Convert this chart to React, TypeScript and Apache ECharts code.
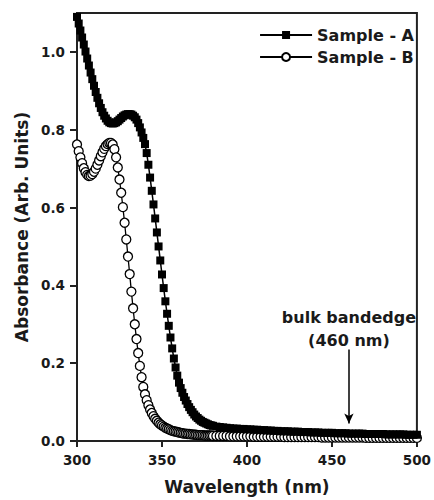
import React, { useEffect, useRef } from "react";
import * as echarts from "echarts";

const wavelengths = [
  300, 301, 302, 303, 304, 305, 306, 307, 308, 309, 310, 311, 312, 313, 314, 315, 316, 317, 318, 319,
  320, 321, 322, 323, 324, 325, 326, 327, 328, 329, 330, 331, 332, 333, 334, 335, 336, 337, 338, 339,
  340, 341, 342, 343, 344, 345, 346, 347, 348, 349, 350, 351, 352, 353, 354, 355, 356, 357, 358, 359,
  360, 361, 362, 363, 364, 365, 366, 367, 368, 369, 370, 371, 372, 373, 374, 375, 376, 377, 378, 379,
  380, 382, 384, 386, 388, 390, 392, 394, 396, 398, 400, 402, 404, 406, 408, 410, 412, 414, 416, 418,
  420, 422, 424, 426, 428, 430, 432, 434, 436, 438, 440, 442, 444, 446, 448, 450, 452, 454, 456, 458,
  460, 462, 464, 466, 468, 470, 472, 474, 476, 478, 480, 482, 484, 486, 488, 490, 492, 494, 496, 498,
  500,
];

const sampleA = [
  1.09, 1.073, 1.055, 1.037, 1.019, 1.001, 0.983, 0.965, 0.947, 0.93, 0.913, 0.897, 0.882, 0.868, 0.856, 0.845, 0.836, 0.829, 0.823, 0.819,
  0.817, 0.816, 0.817, 0.819, 0.822, 0.826, 0.83, 0.834, 0.837, 0.839, 0.84, 0.84, 0.839, 0.836, 0.832, 0.826, 0.817, 0.806, 0.793, 0.779,
  0.763, 0.74, 0.71, 0.677, 0.643, 0.608, 0.572, 0.536, 0.5, 0.464, 0.428, 0.393, 0.359, 0.327, 0.296, 0.266, 0.238, 0.212, 0.189, 0.168,
  0.15, 0.136, 0.124, 0.113, 0.104, 0.095, 0.087, 0.08, 0.074, 0.068, 0.063, 0.059, 0.055, 0.052, 0.049, 0.047, 0.045, 0.043, 0.041, 0.04,
  0.039, 0.037, 0.036, 0.035, 0.034, 0.033, 0.032, 0.032, 0.031, 0.031, 0.03, 0.03, 0.029, 0.029, 0.028, 0.028, 0.027, 0.027, 0.026, 0.026,
  0.025, 0.025, 0.025, 0.024, 0.024, 0.024, 0.023, 0.023, 0.023, 0.022, 0.022, 0.022, 0.021, 0.021, 0.021, 0.021, 0.02, 0.02, 0.02, 0.02,
  0.019, 0.019, 0.019, 0.019, 0.019, 0.018, 0.018, 0.018, 0.018, 0.018, 0.018, 0.017, 0.017, 0.017, 0.017, 0.017, 0.017, 0.016, 0.016, 0.016,
  0.016,
];

const sampleB = [
  0.762, 0.745, 0.729, 0.714, 0.701, 0.691, 0.684, 0.681, 0.682, 0.686, 0.692, 0.7, 0.71, 0.721, 0.732, 0.742, 0.751, 0.758, 0.763, 0.766,
  0.766, 0.762, 0.75, 0.729, 0.703, 0.672, 0.638, 0.601, 0.561, 0.518, 0.474, 0.429, 0.384, 0.341, 0.3, 0.262, 0.226, 0.193, 0.164, 0.139,
  0.12, 0.105, 0.092, 0.081, 0.072, 0.064, 0.057, 0.052, 0.047, 0.043, 0.04, 0.037, 0.034, 0.032, 0.03, 0.028, 0.026, 0.025, 0.024, 0.023,
  0.022, 0.021, 0.02, 0.019, 0.019, 0.018, 0.018, 0.017, 0.017, 0.016, 0.016, 0.015, 0.015, 0.015, 0.015, 0.014, 0.014, 0.014, 0.014, 0.014,
  0.013, 0.013, 0.013, 0.013, 0.013, 0.012, 0.012, 0.012, 0.012, 0.012, 0.012, 0.012, 0.011, 0.011, 0.011, 0.011, 0.011, 0.011, 0.011, 0.011,
  0.011, 0.01, 0.01, 0.01, 0.01, 0.01, 0.01, 0.01, 0.01, 0.01, 0.01, 0.01, 0.009, 0.009, 0.009, 0.009, 0.009, 0.009, 0.009, 0.009,
  0.009, 0.009, 0.009, 0.009, 0.009, 0.008, 0.008, 0.008, 0.008, 0.008, 0.008, 0.008, 0.008, 0.008, 0.008, 0.008, 0.008, 0.008, 0.008, 0.008,
  0.008,
];

const seriesNames = ["Sample - A", "Sample - B"];
const xTicks = [300, 350, 400, 450, 500];
const yTicks = [0, 0.2, 0.4, 0.6, 0.8, 1.0];
const bandEdge = { wavelength: 460, from: 0.235, to: 0.045, label: "bulk bandedge\n(460 nm)" };

const FONT = "DejaVu Sans";
const INK = "#1a1a1a";

export default function App() {
  const ref = useRef<HTMLDivElement>(null);

  useEffect(() => {
    if (!ref.current) return;
    const chart = echarts.init(ref.current, null, { renderer: "svg" });
    const dataA = wavelengths.map((w, i) => [w, sampleA[i]]);
    const dataB = wavelengths.map((w, i) => [w, sampleB[i]]);

    chart.setOption({
      animation: false,
      backgroundColor: "#ffffff",
      grid: {
        left: 77,
        right: 13,
        top: 13,
        bottom: 59,
        show: true,
        borderColor: "#222",
        borderWidth: 2,
        backgroundColor: "transparent",
      },
      legend: {
        data: seriesNames,
        orient: "vertical",
        right: 20,
        top: 27,
        padding: 0,
        itemGap: 6,
        itemWidth: 52,
        itemHeight: 10,
        textStyle: { fontFamily: FONT, fontWeight: "bold", fontSize: 16, color: INK },
      },
      xAxis: {
        type: "value",
        min: 300,
        max: 500,
        interval: 50,
        name: "Wavelength (nm)",
        nameLocation: "middle",
        nameGap: 37,
        nameTextStyle: { fontFamily: FONT, fontWeight: "bold", fontSize: 17, color: INK },
        axisLine: { show: true, lineStyle: { color: "#222", width: 2 } },
        axisTick: { show: true, inside: false, length: 6, lineStyle: { color: "#222", width: 2 } },
        axisLabel: {
          margin: 12,
          fontFamily: FONT,
          fontWeight: "bold",
          fontSize: 13.5,
          color: INK,
          customValues: xTicks,
        },
        splitLine: { show: false },
      },
      yAxis: {
        type: "value",
        min: 0,
        max: 1.1,
        interval: 0.2,
        name: "Absorbance (Arb. Units)",
        nameLocation: "middle",
        nameGap: 46,
        nameTextStyle: { fontFamily: FONT, fontWeight: "bold", fontSize: 17, color: INK },
        axisLine: { show: true, lineStyle: { color: "#222", width: 2 } },
        axisTick: { show: true, inside: false, length: 7, lineStyle: { color: "#222", width: 2 }, customValues: yTicks },
        axisLabel: {
          margin: 12,
          fontFamily: FONT,
          fontWeight: "bold",
          fontSize: 13.5,
          color: INK,
          customValues: yTicks,
          formatter: (v: number) => v.toFixed(1),
        },
        splitLine: { show: false },
      },
      series: [
        {
          name: seriesNames[0],
          type: "line",
          data: dataA,
          z: 3,
          symbol: "rect",
          symbolSize: 8,
          showAllSymbol: true,
          itemStyle: { color: "#000" },
          lineStyle: { color: "#000", width: 1.5 },
          markLine: {
            silent: true,
            symbol: ["none", "arrow"],
            symbolSize: [7, 10],
            lineStyle: { color: "#000", width: 1.5, type: "solid" },
            label: {
              show: true,
              position: "start",
              formatter: bandEdge.label,
              fontFamily: FONT,
              fontWeight: "bold",
              fontSize: 16,
              lineHeight: 23,
              color: INK,
              distance: -2,
            },
            data: [[{ coord: [bandEdge.wavelength, bandEdge.from] }, { coord: [bandEdge.wavelength, bandEdge.to] }]],
          },
        },
        {
          name: seriesNames[1],
          type: "line",
          data: dataB,
          z: 2,
          symbol: "circle",
          symbolSize: 9,
          showAllSymbol: true,
          itemStyle: { color: "#fff", borderColor: "#000", borderWidth: 1.3 },
          lineStyle: { color: "#000", width: 1.3 },
        },
      ],
    });

    return () => chart.dispose();
  }, []);

  return (
    <div
      ref={ref}
      style={{ position: "absolute", left: 0, top: 0, width: 434, height: 500 }}
    />
  );
}
